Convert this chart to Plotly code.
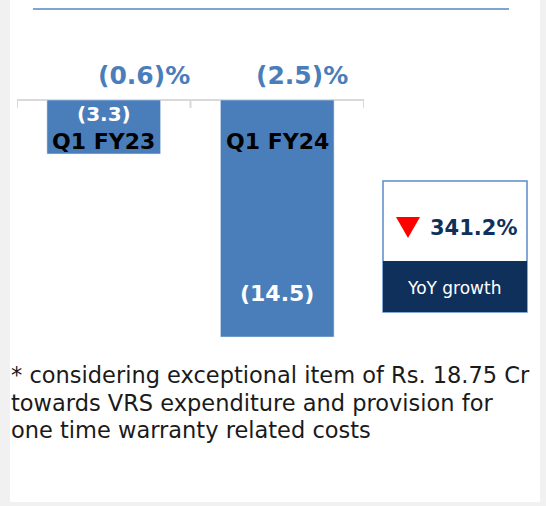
import plotly.graph_objects as go

categories = ["Q1 FY23", "Q1 FY24"]
values = [-3.3, -14.5]
value_labels = ["(3.3)", "(14.5)"]
margin_labels = ["(0.6)%", "(2.5)%"]
yoy_value = "341.2%"
yoy_label = "YoY growth"
footnote_lines = [
    "* considering exceptional item of Rs. 18.75 Cr",
    "towards VRS expenditure and provision for",
    "one time warranty related costs",
]

W, H = 546, 506
BAR = "#4A7EBB"
NAVY = "#10305C"

# vertical scale: 0 at pixel 100, -14.5 at pixel 337
px_per_unit = (337 - 100) / 14.5
ymax = 100 / px_per_unit
ymin = ymax - H / px_per_unit


def ypix(p):
    return ymax - p / px_per_unit


def py(p):
    return 1 - p / H


fig = go.Figure()
fig.add_trace(go.Bar(x=categories, y=values, marker_color=BAR, width=0.655,
                     hoverinfo="skip"))

shapes = []
# page edges
shapes.append(dict(type="rect", xref="paper", yref="paper", x0=0, x1=10 / W, y0=0, y1=1,
                   fillcolor="#F1F1F1", line_width=0, layer="below"))
shapes.append(dict(type="rect", xref="paper", yref="paper", x0=540 / W, x1=1, y0=0, y1=1,
                   fillcolor="#F1F1F1", line_width=0, layer="below"))
shapes.append(dict(type="rect", xref="paper", yref="paper", x0=0, x1=1, y0=0, y1=4 / H,
                   fillcolor="#F1F1F1", line_width=0, layer="below"))
# top rule
shapes.append(dict(type="line", xref="paper", yref="paper", x0=33 / W, x1=509 / W,
                   y0=py(9), y1=py(9), line=dict(color="#7FA3D3", width=2)))
# axis line at zero
shapes.append(dict(type="line", xref="x", yref="y", x0=-0.5, x1=1.5, y0=0, y1=0,
                   line=dict(color="#D9D9D9", width=2), layer="below"))
for xb in [-0.5, 0.5, 1.5]:
    shapes.append(dict(type="line", xref="x", yref="y", x0=xb, x1=xb, y0=0, y1=ypix(108),
                       line=dict(color="#D9D9D9", width=2), layer="below"))
# YoY box
shapes.append(dict(type="rect", xref="paper", yref="paper", x0=383 / W, x1=527 / W,
                   y0=py(312), y1=py(181), fillcolor="white",
                   line=dict(color="#5B8BC9", width=1.5)))
shapes.append(dict(type="rect", xref="paper", yref="paper", x0=383 / W, x1=527 / W,
                   y0=py(312), y1=py(261), fillcolor=NAVY, line_width=0))
# red down triangle
tx0, tx1, ty0, ty1 = 396, 420, 217, 238
shapes.append(dict(type="path", xref="paper", yref="paper",
                   path=f"M {tx0/W},{py(ty0)} L {tx1/W},{py(ty0)} L {(tx0+tx1)/2/W},{py(ty1)} Z",
                   fillcolor="#FF0000", line_width=0))

ann = []
BOLD = "DejaVu Sans"
pct_offsets = [0.23, 0.14]
label_pix = [114, 293]
label_sizes = [20, 22]
for i, c in enumerate(categories):
    ann.append(dict(x=i, y=ypix(141), xref="x", yref="y", text=f"<b>{c}</b>",
                    xanchor="center", yanchor="middle", borderpad=0,
                    showarrow=False, font=dict(family=BOLD, size=22, color="black")))
    ann.append(dict(x=i + pct_offsets[i], y=ypix(75), xref="x", yref="y",
                    text=f"<b>{margin_labels[i]}</b>", xanchor="center", yanchor="middle",
                    showarrow=False, font=dict(family=BOLD, size=25, color=BAR)))
    ann.append(dict(x=i, y=ypix(label_pix[i]), xref="x", yref="y",
                    text=f"<b>{value_labels[i]}</b>", xanchor="center", yanchor="middle",
                    borderpad=0,
                    showarrow=False, font=dict(family=BOLD, size=label_sizes[i], color="white")))

ann.append(dict(x=473 / W, y=py(228), xref="paper", yref="paper", text=f"<b>{yoy_value}</b>",
                xanchor="center", yanchor="middle",
                showarrow=False, font=dict(family=BOLD, size=21, color=NAVY)))
ann.append(dict(x=454 / W, y=py(288), xref="paper", yref="paper", text=yoy_label,
                xanchor="center", yanchor="middle",
                showarrow=False, font=dict(family="DejaVu Sans", size=17, color="white")))
for k, line in enumerate(footnote_lines):
    ann.append(dict(x=9 / W, y=py(375 + 27.5 * k), xref="paper", yref="paper", text=line,
                    xanchor="left", yanchor="middle", align="left", showarrow=False,
                    font=dict(family="DejaVu Sans", size=22.5, color="#1A1A1A")))

fig.update_layout(
    width=W, height=H,
    margin=dict(l=0, r=0, t=0, b=0),
    paper_bgcolor="white", plot_bgcolor="rgba(0,0,0,0)",
    showlegend=False,
    xaxis=dict(domain=[17 / W, 364 / W], range=[-0.5, 1.5], visible=False, fixedrange=True),
    yaxis=dict(domain=[0, 1], range=[ymin, ymax], visible=False, fixedrange=True),
    shapes=shapes, annotations=ann,
)

fig.write_html("out.html", config={"displayModeBar": False},
               post_script="document.body.style.margin='0';")
